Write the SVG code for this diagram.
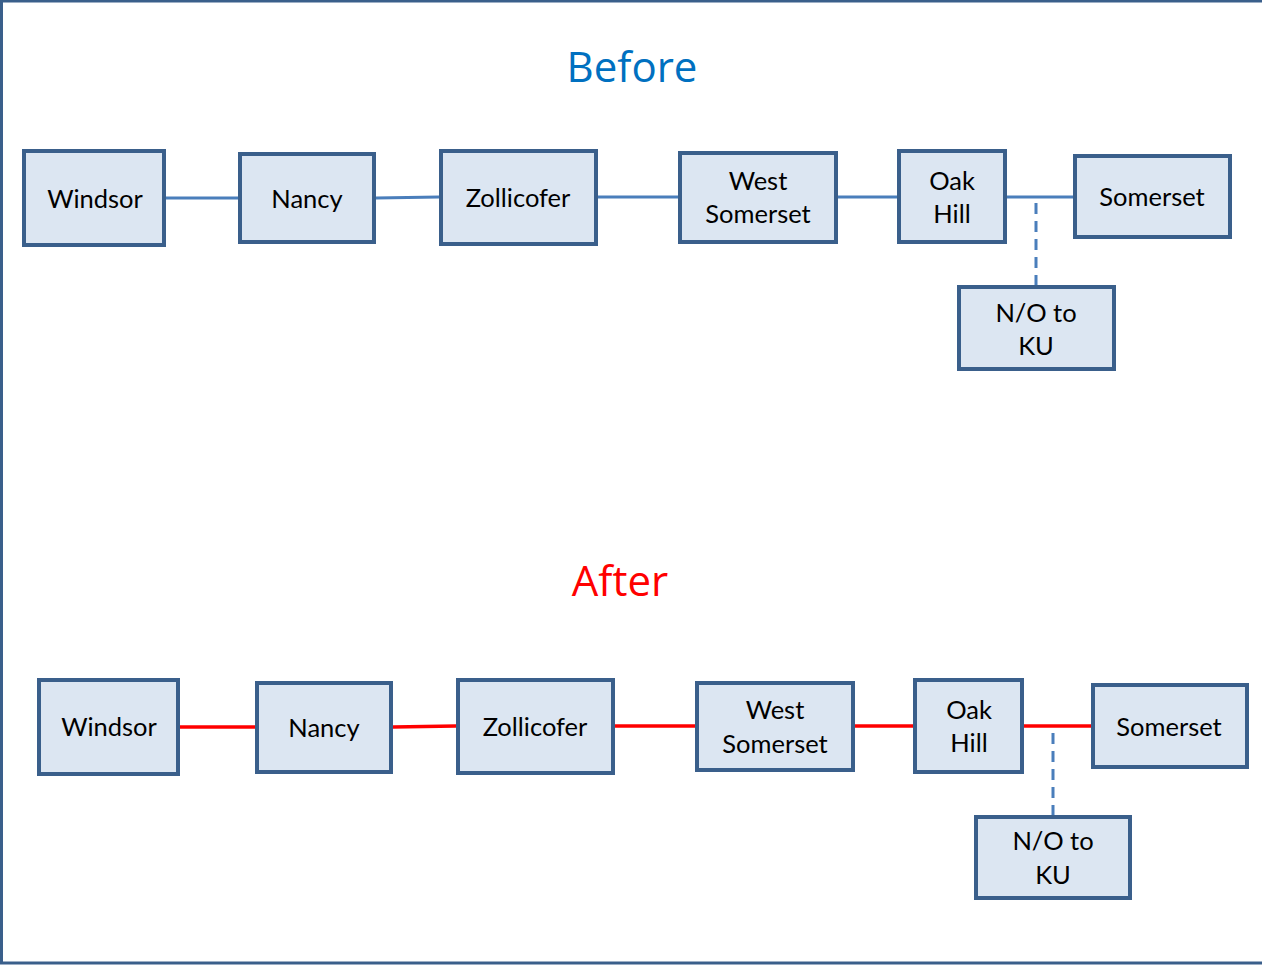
<svg xmlns="http://www.w3.org/2000/svg" width="1262" height="965" viewBox="0 0 1262 965">
<style>
.node rect{fill:#dce6f2;stroke:#3a5f8b;stroke-width:4}
.node text,.t{font-family:Lato,"Open Sans",sans-serif;font-size:25.5px;fill:#000;text-anchor:middle}
.b{stroke:#4a7ebb;stroke-width:3;fill:none}
.r{stroke:#ff0000;stroke-width:3.5;fill:none}
.d{stroke:#4a7ebb;stroke-width:3;stroke-dasharray:11,7;fill:none}
.title{font-family:"Open Sans",Lato,sans-serif;font-size:42px;text-anchor:middle}
</style>
<rect x="1.5" y="1" width="1270" height="962" fill="#fff" stroke="#3a5f8b" stroke-width="3"/>
<text class="title" x="632" y="82" fill="#0070c0">Before</text>
<text class="title" x="620" y="596" fill="#ff0000">After</text>
<g id="connectors">
<line class="b" x1="165" y1="198" x2="238" y2="198"/>
<line class="b" x1="376" y1="198" x2="439" y2="197"/>
<line class="b" x1="598" y1="197" x2="678" y2="197"/>
<line class="b" x1="838" y1="197" x2="897" y2="197"/>
<line class="b" x1="1007" y1="197" x2="1073" y2="197"/>
<line class="d" x1="1036" y1="203" x2="1036" y2="285"/>
<line class="r" x1="180" y1="727" x2="255" y2="727"/>
<line class="r" x1="393" y1="727" x2="456" y2="726"/>
<line class="r" x1="615" y1="726" x2="695" y2="726"/>
<line class="r" x1="855" y1="726" x2="913" y2="726"/>
<line class="r" x1="1024" y1="726" x2="1091" y2="726"/>
<line class="d" x1="1053" y1="733" x2="1053" y2="815"/>
</g>
<g id="b-windsor" class="node"><rect x="24" y="151" width="140" height="94"/><text x="95" y="208">Windsor</text></g>
<g id="b-nancy" class="node"><rect x="240" y="154" width="134" height="88"/><text x="307" y="208">Nancy</text></g>
<g id="b-zollicofer" class="node"><rect x="441" y="151" width="155" height="93"/><text x="518" y="207">Zollicofer</text></g>
<g id="b-westsomerset" class="node"><rect x="680" y="153" width="156" height="89"/><text x="758" y="190">West</text><text x="758" y="223">Somerset</text></g>
<g id="b-oakhill" class="node"><rect x="899" y="151" width="106" height="91"/><text x="952" y="190">Oak</text><text x="952" y="223">Hill</text></g>
<g id="b-somerset" class="node"><rect x="1075" y="156" width="155" height="81"/><text x="1152" y="206">Somerset</text></g>
<g id="b-noku" class="node"><rect x="959" y="287" width="155" height="82"/><text x="1036" y="322">N/O to</text><text x="1036" y="355">KU</text></g>
<g id="a-windsor" class="node"><rect x="39" y="680" width="139" height="94"/><text x="109" y="736">Windsor</text></g>
<g id="a-nancy" class="node"><rect x="257" y="683" width="134" height="89"/><text x="324" y="737">Nancy</text></g>
<g id="a-zollicofer" class="node"><rect x="458" y="680" width="155" height="93"/><text x="535" y="736">Zollicofer</text></g>
<g id="a-westsomerset" class="node"><rect x="697" y="683" width="156" height="87"/><text x="775" y="719">West</text><text x="775" y="753">Somerset</text></g>
<g id="a-oakhill" class="node"><rect x="915" y="680" width="107" height="92"/><text x="969" y="719">Oak</text><text x="969" y="752">Hill</text></g>
<g id="a-somerset" class="node"><rect x="1093" y="685" width="154" height="82"/><text x="1169" y="736">Somerset</text></g>
<g id="a-noku" class="node"><rect x="976" y="817" width="154" height="81"/><text x="1053" y="850">N/O to</text><text x="1053" y="884">KU</text></g>
</svg>
